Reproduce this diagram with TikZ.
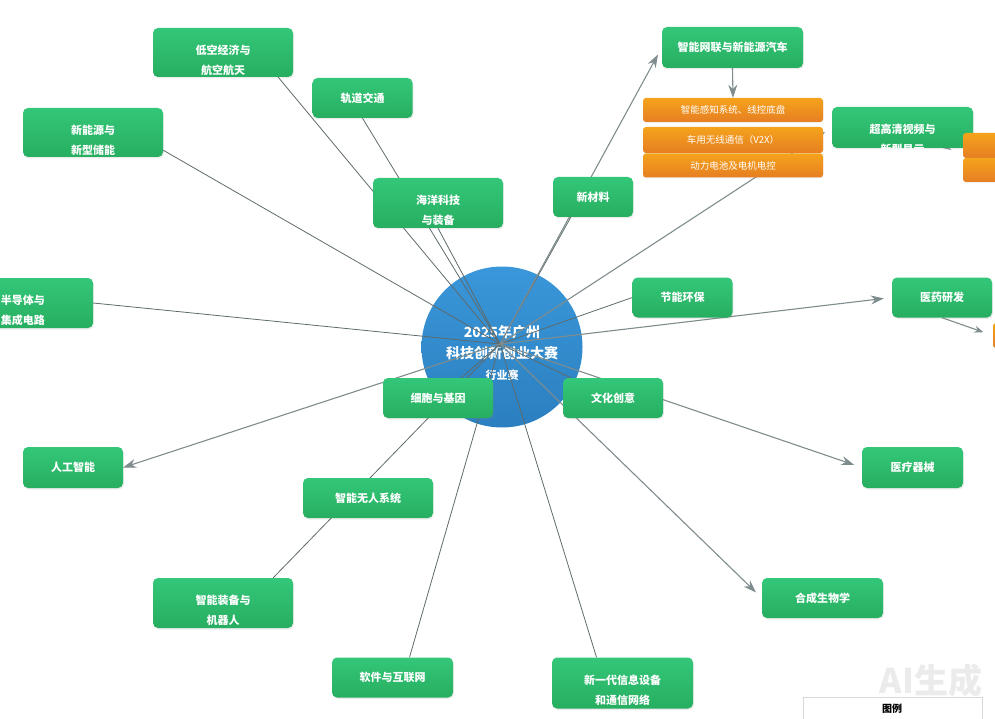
\documentclass[tikz,border=0pt]{standalone}
\usepackage{fontspec}
\setmainfont{Noto Sans CJK SC}
\usetikzlibrary{arrows.meta, shadows}
\definecolor{greenTop}{HTML}{34C779}
\definecolor{greenBot}{HTML}{27AE60}
\definecolor{orangeTop}{HTML}{F5A31C}
\definecolor{orangeBot}{HTML}{E67E22}
\definecolor{blueTop}{HTML}{3A97D9}
\definecolor{blueBot}{HTML}{2B7FC0}
\definecolor{lineGray}{HTML}{5F6A6A}
\definecolor{arrGray}{HTML}{7F8C8D}
\pgfdeclarelayer{back}
\pgfdeclarelayer{edges}
\pgfsetlayers{back,edges,main}

\begin{document}
\begin{tikzpicture}[x=1pt, y=-1pt,
  box/.style={rectangle, rounded corners=5pt, top color=greenTop, bottom color=greenBot,
    text=white, font=\fontsize{11}{20}\selectfont\bfseries, align=center, inner sep=0pt,
    minimum height=40, drop shadow={opacity=0.15, shadow xshift=1pt, shadow yshift=-1.5pt}},
  txt/.style={text=white, font=\fontsize{11}{20}\selectfont\bfseries, align=center, inner sep=0pt},
  subbox/.style={rectangle, rounded corners=3pt, top color=orangeTop, bottom color=orangeBot,
    text=white, font=\fontsize{9.5}{11}\selectfont, inner sep=0pt, minimum height=25,
    drop shadow={opacity=0.12, shadow xshift=0.5pt, shadow yshift=-1pt}},
  link/.style={draw=lineGray, line width=0.8pt},
  arr/.style={draw=arrGray, line width=1.1pt, -{Stealth[length=13pt, width=9pt]}, shorten >=8pt},
]
  \useasboundingbox (0,0) rectangle (995,719);

  % --- centre ---
  \begin{pgfonlayer}{back}
    \node[circle, minimum size=161, inner sep=0pt, top color=blueTop, bottom color=blueBot] (hub) at (502,347) {};
    \node[txt, font=\fontsize{14}{21}\selectfont\bfseries] (hubtext) at (502,353)
      {2025年广州\\科技创新创业大赛\\\fontsize{11}{21}\selectfont 行业赛};
  \end{pgfonlayer}
  \coordinate (hubpt) at (500,344);

  % --- top ---
  \node[box, minimum width=140, minimum height=49,
    label={[txt, yshift=-7.5pt]center:{低空经济与\\航空航天}}] (low) at (223,52.5) {};
  \node[box, minimum width=100] (rail) at (362.5,98) {轨道交通};
  \node[box, minimum width=140, minimum height=49,
    label={[txt, yshift=-7.5pt]center:{新能源与\\新型储能}}] (newenergy) at (93,132.5) {};
  \node[box, minimum width=130, minimum height=50,
    label={[txt, yshift=-7pt]center:{海洋科技\\与装备}}] (ocean) at (438,203) {};
  \node[box, minimum width=80] (material) at (593,197) {新材料};

  % --- car chain ---
  \node[box, minimum width=141, minimum height=41] (car) at (732.5,47.5) {智能网联与新能源汽车};
  \node[subbox, minimum width=180, minimum height=24] (car1) at (733,110) {智能感知系统、线控底盘};
  \node[subbox, minimum width=180, minimum height=26] (car2) at (733,140) {车用无线通信（V2X）};
  \node[subbox, minimum width=180, minimum height=24] (car3) at (733,165.5) {动力电池及电机电控};

  % --- right ---
  \node[box, minimum width=141, minimum height=41,
    label={[txt, yshift=-11.5pt]center:{超高清视频与\\新型显示}}] (video) at (902.5,127.5) {};
  \node[subbox, minimum width=100, minimum height=25] (vid1) at (1013,145.5) {};
  \node[subbox, minimum width=100, minimum height=24] (vid2) at (1013,170) {};
  \node[box, minimum width=100] (eco) at (682.5,297.5) {节能环保};
  \node[box, minimum width=100] (pharma) at (942,297.5) {医药研发};
  \node[subbox, minimum width=100, minimum height=25] (pharmasub) at (1043,335.5) {};
  \node[box, minimum width=101, minimum height=41] (meddev) at (912.5,467.5) {医疗器械};
  \node[box, minimum width=121] (synbio) at (822.5,598) {合成生物学};

  % --- left ---
  \node[box, minimum width=140, minimum height=50,
    label={[txt, yshift=-7pt]center:{半导体与\\集成电路}}] (semi) at (23,303) {};
  \node[box, minimum width=100, minimum height=41] (ai) at (73,467.5) {人工智能};
  \node[box, minimum width=110] (cell) at (438,398) {细胞与基因};
  \node[box, minimum width=100] (culture) at (613,398) {文化创意};

  % --- bottom ---
  \node[box, minimum width=130] (unmanned) at (368,498) {智能无人系统};
  \node[box, minimum width=140, minimum height=50,
    label={[txt, yshift=-7pt]center:{智能装备与\\机器人}}] (robot) at (223,603) {};
  \node[box, minimum width=121] (software) at (392.5,677.5) {软件与互联网};
  \node[box, minimum width=141, minimum height=51,
    label={[txt, yshift=-7pt]center:{新一代信息设备\\和通信网络}}] (ictnet) at (622.5,683) {};

  % --- legend, mark ---
  \node[rectangle, draw=black!15, fill=white, minimum width=179, minimum height=44,
    anchor=north west, inner sep=0pt] (legend) at (803,697) {};
  \node[font=\fontsize{10}{12}\selectfont\bfseries, inner sep=0pt] (legendtitle) at (892,709) {图例};
  \node[text=black!8, font=\fontsize{34}{34}\selectfont\bfseries, inner sep=0pt] (mark) at (931,681) {AI生成};

  % --- connectors ---
  \begin{pgfonlayer}{edges}
    \draw[link] ([xshift=-15pt]low.south east) -- (hubpt);
    \draw[link] (rail.south) -- (hubpt);
    \draw[link] ([yshift=7pt]newenergy.south east) -- (hubpt);
    \draw[link] (ocean.south) -- (hubpt);
    \draw[link] ([xshift=18pt]material.south west) -- (hubpt);
    \draw[link] (eco.west) -- (hubpt);
    \draw[link] (semi.east) -- (hubpt);
    \draw[link] (cell) -- (hubpt);
    \draw[link] (culture) -- (hubpt);
    \draw[link] ([xshift=-20pt]robot.north east) -- (hubpt);
    \draw[link] ([xshift=17pt]software.north) -- (hubpt);
    \draw[link] ([xshift=-26pt]ictnet.north) -- (hubpt);
    \draw[arr] (hubpt) -- (car.west);
    \draw[arr] (hubpt) -- (video.west);
    \draw[arr] (hubpt) -- (pharma.west);
    \draw[arr] (hubpt) -- (meddev.west);
    \draw[arr] (hubpt) -- (synbio.west);
    \draw[arr, shorten >=0pt] (hubpt) -- (ai.east);
    \draw[arr, shorten >=0pt] (car.south) -- (car1.north);
    \draw[arr, shorten >=0pt, -{Stealth[length=8pt, width=6pt]}] (vid1.west) -- ([xshift=-30pt]video.south east);
    \draw[arr, shorten >=10pt, -{Stealth[length=9pt, width=7pt]}] (pharma.south) -- (pharmasub.west);
  \end{pgfonlayer}
\end{tikzpicture}
\end{document}
